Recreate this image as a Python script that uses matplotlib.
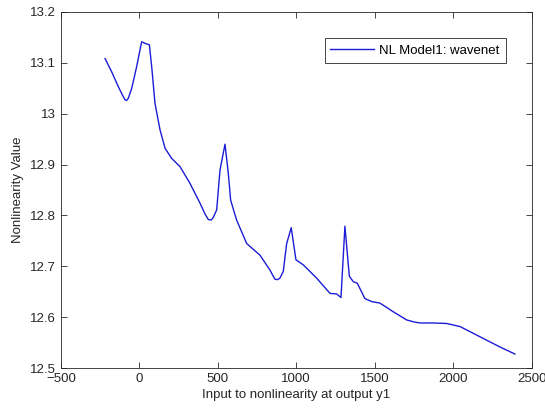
import matplotlib
matplotlib.use("Agg")
import matplotlib.pyplot as plt

x = [-218, -176, -134, -105, -91, -80, -70, -48, -17, 15, 36, 64, 79, 100, 132, 164, 206, 259, 323, 387,
     420, 440, 458, 471, 493, 514, 546, 567, 582, 620, 684, 769, 832, 864, 880, 896, 917, 939, 968, 998,
     1045, 1130, 1215, 1257, 1285, 1310, 1338, 1363, 1389, 1437, 1480, 1533, 1618, 1703,
     1750, 1788, 1870, 1958, 2043, 2170, 2297, 2393]
y = [13.108, 13.082, 13.053, 13.035, 13.027, 13.026, 13.030, 13.050, 13.092, 13.141, 13.138, 13.135, 13.092,
     13.020, 12.968, 12.932, 12.912, 12.896, 12.863, 12.824, 12.802, 12.792, 12.791, 12.796, 12.811, 12.889,
     12.940, 12.883, 12.830, 12.791, 12.745, 12.722, 12.693, 12.675, 12.674, 12.677, 12.690, 12.745,
     12.776, 12.713, 12.703, 12.677, 12.647, 12.646, 12.639, 12.779, 12.681, 12.670, 12.667,
     12.637, 12.631, 12.628, 12.611, 12.595, 12.591, 12.589, 12.589, 12.588, 12.582, 12.562, 12.542, 12.528]
xticks = [-500, 0, 500, 1000, 1500, 2000, 2500]
yticks = [12.5, 12.6, 12.7, 12.8, 12.9, 13.0, 13.1, 13.2]
ytick_labels = ["12.5", "12.6", "12.7", "12.8", "12.9", "13", "13.1", "13.2"]

plt.rcParams['font.family'] = ['Liberation Sans', 'DejaVu Sans']
fig = plt.figure(figsize=(5.45, 4.13), dpi=100)
ax = fig.add_axes([0.1116, 0.1082, 0.864, 0.8635])
ax.plot(x, y, color='#1c1cd6', lw=1.0, label='NL Model1: wavenet')
ax.set_xlim(-500, 2500)
ax.set_ylim(12.5, 13.2)
ax.set_xticks(xticks)
ax.set_yticks(yticks)
ax.set_yticklabels(ytick_labels)
ax.tick_params(direction='in', top=True, right=True, labelsize=9.5, colors='#262626', length=4, width=0.6)
for s in ax.spines.values():
    s.set_color('#262626')
    s.set_linewidth(0.6)
ax.set_xlabel('Input to nonlinearity at output y1', fontsize=9.5, color='#262626', labelpad=3)
ax.set_ylabel('Nonlinearity Value', fontsize=9.5, color='#262626', labelpad=4)
leg = ax.legend(loc='upper right', bbox_to_anchor=(0.9446, 0.925), fontsize=9.5, fancybox=False,
                framealpha=1, edgecolor='#262626', handlelength=3.3, borderpad=0.45,
                handletextpad=0.4, borderaxespad=0)
leg.get_frame().set_linewidth(0.6)
fig.savefig('out.png', dpi=100)
